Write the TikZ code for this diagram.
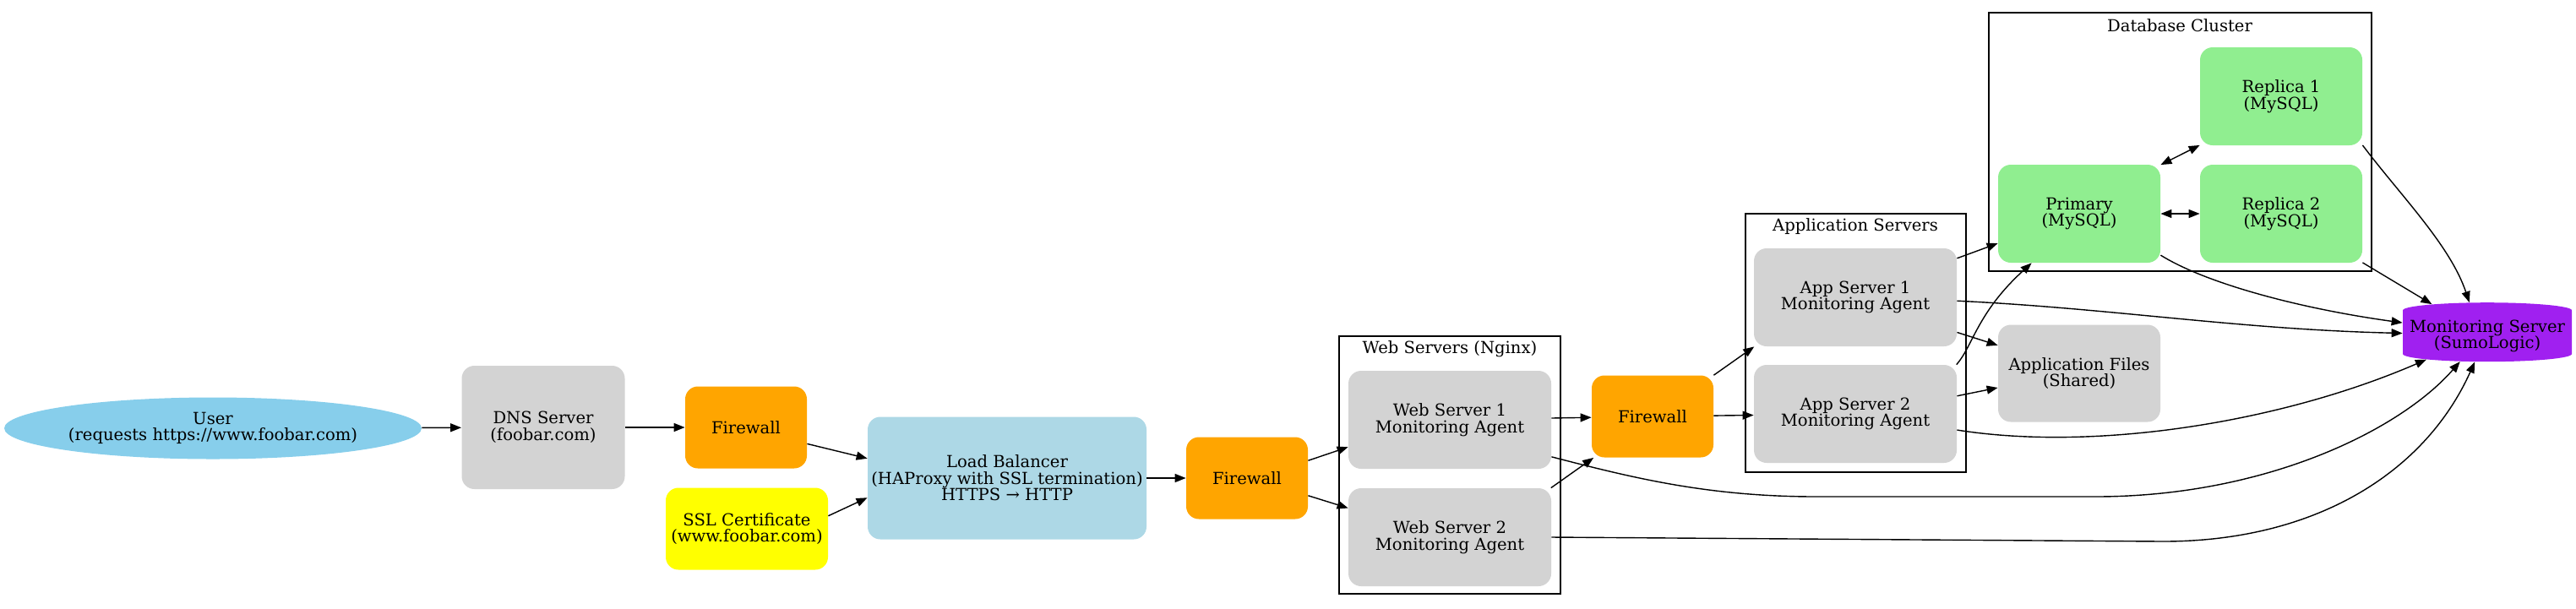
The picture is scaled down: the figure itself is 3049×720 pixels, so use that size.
\documentclass[tikz,border=0pt]{standalone}
\usepackage{fontspec}
\setmainfont{DejaVu Serif}
\usetikzlibrary{arrows.meta,shapes.geometric}
\definecolor{skyblue}{RGB}{135,206,235}
\definecolor{lgray}{RGB}{211,211,211}
\definecolor{orangeX}{RGB}{255,165,0}
\definecolor{yellowX}{RGB}{255,255,0}
\definecolor{lblue}{RGB}{173,216,230}
\definecolor{lgreen}{RGB}{144,238,144}
\definecolor{purpleX}{RGB}{160,32,240}
\begin{document}
\begin{tikzpicture}[x=0.5pt,y=-0.5pt,
  font=\fontsize{9.8pt}{9.8pt}\selectfont,
  box/.style={rectangle,rounded corners=7.5pt,align=center,inner sep=0pt},
  fwbox/.style={box,fill=orangeX,minimum width=72pt,minimum height=48.5pt},
  srvbox/.style={box,fill=lgray,minimum width=120pt,minimum height=58pt},
  dbbox/.style={box,fill=lgreen,minimum width=96pt,minimum height=58pt},
  cluster/.style={draw,line width=0.7pt},
  edge/.style={line width=0.7pt,-{Triangle[length=6.5pt,width=5pt]}},
  twoway/.style={line width=0.7pt,{Triangle[length=6.5pt,width=5pt]}-{Triangle[length=6.5pt,width=5pt]}}]
\useasboundingbox (0,0) rectangle (3049,720);
% clusters
\draw[cluster] (1585,398) rectangle (1847,703);
\node (weblabel) at (1716,413) {Web Servers (Nginx)};
\draw[cluster] (2066,253) rectangle (2327,559);
\node (applabel) at (2196,268) {Application Servers};
\draw[cluster] (2354,15) rectangle (2807,321);
\node (dblabel) at (2580,30) {Database Cluster};
% nodes
\node[ellipse,fill=skyblue,minimum width=247pt,minimum height=36.5pt,align=center,inner sep=0pt] (user) at (252,507) {User\\(requests https://www.foobar.com)};
\node[box,fill=lgray,minimum width=96.5pt,minimum height=73pt] (dns) at (643,506) {DNS Server\\(foobar.com)};
\node[fwbox] (fwA) at (883,506) {Firewall};
\node[box,fill=yellowX,minimum width=96pt,minimum height=48.5pt] (ssl) at (884,626) {SSL Certificate\\(www.foobar.com)};
\node[box,fill=lblue,minimum width=165pt,minimum height=72.5pt] (lb) at (1192,566) {Load Balancer\\(HAProxy with SSL termination)\\HTTPS → HTTP};
\node[fwbox] (fwB) at (1476,566) {Firewall};
\node[srvbox] (ws1) at (1716,497) {Web Server 1\\Monitoring Agent};
\node[srvbox] (ws2) at (1716,636) {Web Server 2\\Monitoring Agent};
\node[fwbox] (fwC) at (1956,493) {Firewall};
\node[srvbox] (as1) at (2196,352) {App Server 1\\Monitoring Agent};
\node[srvbox] (as2) at (2196,490) {App Server 2\\Monitoring Agent};
\node[box,fill=lgray,minimum width=96pt,minimum height=57.5pt] (files) at (2461,442) {Application Files\\(Shared)};
\node[dbbox] (primary) at (2461,253) {Primary\\(MySQL)};
\node[dbbox] (rep1) at (2700,114) {Replica 1\\(MySQL)};
\node[dbbox] (rep2) at (2700,253) {Replica 2\\(MySQL)};
\node[cylinder,shape border rotate=90,aspect=0.1,fill=purpleX,minimum width=100pt,minimum height=35pt,align=center,inner sep=0pt] (mon) at (2944,398) {Monitoring Server\\(SumoLogic)};
% edges
\draw[edge] (user) -- (dns);
\draw[edge] (dns) -- (fwA);
\draw[edge] (fwA.-15) -- (lb.172);
\draw[edge] (ssl.9) -- (lb.188);
\draw[edge] (lb) -- (fwB);
\draw[edge] (fwB.16) -- (ws1.195);
\draw[edge] (fwB.-16) -- (ws2.164);
\draw[edge] (ws1) -- (fwC);
\draw[edge] (ws2.26.5) -- (fwC.215);
\draw[edge] (ws1.-20) .. controls (1930,565) and (2020,588) .. (2150,588) -- (2480,588) .. controls (2680,588) and (2840,510) .. (mon.223);
\draw[edge] (ws2.east) -- (2560,641) .. controls (2740,641) and (2870,560) .. (mon.244);
\draw[edge] (fwC.34) -- (as1.206);
\draw[edge] (fwC) -- (as2);
\draw[edge] (as1.21) -- (primary.200);
\draw[edge] (as1.-2) .. controls (2500,365) and (2650,390) .. (mon.178);
\draw[edge] (as1.-19) -- (files.161);
\draw[edge] (as2.26) .. controls (2335,410) and (2340,370) .. (primary.226);
\draw[edge] (as2.10) -- (files.190);
\draw[edge] (as2.-9) .. controls (2480,535) and (2700,500) .. (mon.201);
\draw[twoway] (primary.31) -- (rep1.211);
\draw[twoway] (primary) -- (rep2);
\draw[edge] (primary.-27) .. controls (2610,335) and (2720,365) .. (mon.171);
\draw[edge] (rep1.-31) .. controls (2840,230) and (2900,290) .. (mon.118);
\draw[edge] (rep2.-31) -- (mon.150);
\end{tikzpicture}
\end{document}
